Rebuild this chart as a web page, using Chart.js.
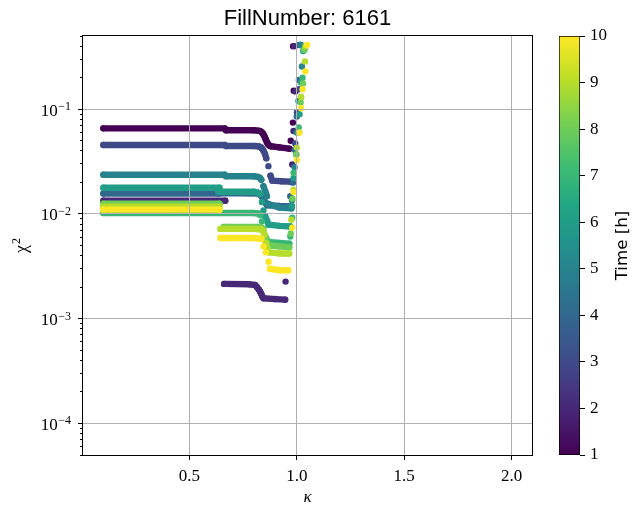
<!DOCTYPE html>
<html>
<head>
<meta charset="utf-8">
<script src="https://cdn.jsdelivr.net/npm/chart.js@4.4.1/dist/chart.umd.min.js"></script>
<style>
  html, body { margin: 0; padding: 0; background: #fff; }
  #wrap { position: relative; width: 632px; height: 507px; }
  #main { position: absolute; left: 0; top: 0; }
  #cbar { position: absolute; left: 532px; top: 0; }
</style>
</head>
<body>
<div id="wrap">
  <canvas id="main" width="632" height="507"></canvas>
  <canvas id="cbar" width="100" height="507"></canvas>
</div>
<script>
// Fill 6161: chi^2 of the fit against kappa, one scan per hour of the fill.
const hours = [1, 2, 3, 4, 5, 6, 7, 8, 9, 10];

const kappaH1 = [0.10, 0.665, 0.67, 0.80, 0.82, 0.83, 0.835, 0.84, 0.845, 0.85, 0.855, 0.86, 0.865, 0.87, 0.875, 0.88, 0.92, 0.965, 0.972, 0.982, 0.986, 0.983];
const chi2H1  = [0.0657, 0.0657, 0.0629, 0.0629, 0.0625, 0.0618, 0.0608, 0.0595, 0.0575, 0.0550, 0.0520, 0.0490, 0.0468, 0.0455, 0.0447, 0.0443, 0.0432, 0.0420, 0.050, 0.0745, 0.150, 0.400];

const kappaH2 = [0.10, 0.667, 0.662, 0.78, 0.806, 0.815, 0.825, 0.83, 0.835, 0.84, 0.845, 0.90, 0.946, 0.948, 0.979, 0.985, 0.994, 0.99];
const chi2H2  = [0.0134, 0.0134, 0.00215, 0.00213, 0.00210, 0.00200, 0.00188, 0.00180, 0.00172, 0.00163, 0.00157, 0.00154, 0.00152, 0.00226, 0.0297, 0.062, 0.148, 0.40];

const kappaH3 = [0.10, 0.665, 0.67, 0.80, 0.82, 0.83, 0.835, 0.84, 0.845, 0.852, 0.858, 0.868, 0.878, 0.886, 0.93, 0.975, 0.993, 1.001, 1.009, 1.012];
const chi2H3  = [0.0455, 0.0455, 0.0446, 0.0446, 0.0443, 0.0437, 0.0428, 0.0418, 0.0402, 0.0375, 0.0340, 0.0286, 0.0232, 0.0208, 0.0205, 0.0203, 0.047, 0.093, 0.155, 0.41];

const kappaH4 = [0.10, 0.635, 0.65, 0.82, 0.83, 0.845, 0.855, 0.862, 0.92, 0.968, 0.970, 0.982, 0.990, 1.000, 1.010, 1.016];
const chi2H4  = [0.0157, 0.0157, 0.0158, 0.0157, 0.0152, 0.0138, 0.0127, 0.0121, 0.0119, 0.0118, 0.0148, 0.0199, 0.041, 0.085, 0.19, 0.41];

const kappaH5 = [0.10, 0.665, 0.67, 0.80, 0.82, 0.83, 0.835, 0.845, 0.853, 0.861, 0.866, 0.92, 0.975, 0.978, 0.99, 1.0, 1.008, 1.024, 1.02];
const chi2H5  = [0.0237, 0.0237, 0.0229, 0.0229, 0.0226, 0.0220, 0.0212, 0.0184, 0.0165, 0.0148, 0.0125, 0.0115, 0.0113, 0.0135, 0.028, 0.060, 0.12, 0.256, 0.41];

const kappaH6 = [0.10, 0.64, 0.635, 0.80, 0.82, 0.83, 0.838, 0.845, 0.853, 0.862, 0.869, 0.92, 0.97, 0.978, 0.985, 0.998, 1.013, 1.02, 1.03];
const chi2H6  = [0.0178, 0.0178, 0.0163, 0.0163, 0.0160, 0.0155, 0.0130, 0.0108, 0.0095, 0.0086, 0.0079, 0.0077, 0.0076, 0.0119, 0.022, 0.037, 0.0895, 0.18, 0.36];

const kappaH7 = [0.10, 0.80, 0.82, 0.83, 0.838, 0.845, 0.855, 0.868, 0.92, 0.965, 0.97, 0.979, 0.985, 1.009, 1.02, 1.027, 1.036];
const chi2H7  = [0.0102, 0.0102, 0.0101, 0.0098, 0.0085, 0.0072, 0.0060, 0.0054, 0.0053, 0.0052, 0.0061, 0.0092, 0.0248, 0.0668, 0.131, 0.20, 0.37];

const kappaH8 = [0.10, 0.64, 0.66, 0.83, 0.84, 0.85, 0.86, 0.87, 0.92, 0.965, 0.972, 0.98, 0.998, 1.018, 1.029, 1.034];
const chi2H8  = [0.0125, 0.0125, 0.0075, 0.0075, 0.0073, 0.0062, 0.0055, 0.0050, 0.0049, 0.0048, 0.0065, 0.014, 0.037, 0.116, 0.176, 0.37];

const kappaH9 = [0.10, 0.64, 0.645, 0.80, 0.835, 0.844, 0.85, 0.856, 0.862, 0.868, 0.92, 0.965, 0.975, 0.985, 1.0, 1.01, 1.02, 1.038, 1.04];
const chi2H9  = [0.0117, 0.0117, 0.0072, 0.0072, 0.0071, 0.0069, 0.00635, 0.0053, 0.0047, 0.0043, 0.0042, 0.0042, 0.0088, 0.017, 0.043, 0.0598, 0.131, 0.286, 0.40];

const kappaH10 = [0.10, 0.64, 0.645, 0.80, 0.835, 0.845, 0.856, 0.869, 0.875, 0.92, 0.96, 0.979, 0.985, 1.001, 1.013, 1.02, 1.027, 1.04, 1.048];
const chi2H10  = [0.0110, 0.0110, 0.0059, 0.0059, 0.0058, 0.0049, 0.0043, 0.0035, 0.0030, 0.0029, 0.0029, 0.0074, 0.0162, 0.0327, 0.0598, 0.102, 0.155, 0.23, 0.41];

const kappaTicks = [0.5, 1.0, 1.5, 2.0];
const chi2Ticks = [1e-4, 1e-3, 1e-2, 1e-1];
const timeTicks = [1, 2, 3, 4, 5, 6, 7, 8, 9, 10];

const scans = [
  [kappaH1, chi2H1], [kappaH2, chi2H2], [kappaH3, chi2H3], [kappaH4, chi2H4], [kappaH5, chi2H5],
  [kappaH6, chi2H6], [kappaH7, chi2H7], [kappaH8, chi2H8], [kappaH9, chi2H9], [kappaH10, chi2H10]
];

// viridis colour map
const VIRIDIS = ['#440154', '#482475', '#414487', '#355f8d', '#2a788e', '#21918c',
                 '#22a884', '#44bf70', '#7ad151', '#bddf26', '#fde725'];
function hexRgb(h) { return [1, 3, 5].map(i => parseInt(h.slice(i, i + 2), 16)); }
function viridis(f) {
  const n = VIRIDIS.length - 1;
  const p = Math.min(Math.max(f, 0), 1) * n;
  const i = Math.min(Math.floor(p), n - 1);
  const t = p - i;
  const a = hexRgb(VIRIDIS[i]), b = hexRgb(VIRIDIS[i + 1]);
  const c = a.map((v, k) => Math.round(v + (b[k] - v) * t));
  return `rgb(${c[0]},${c[1]},${c[2]})`;
}
const tMin = timeTicks[0], tMax = timeTicks[timeTicks.length - 1];

// Neighbouring points that touch form a continuous band; isolated points stay dots.
function bandOrGap(c) {
  const dx = Math.abs(c.p1.x - c.p0.x), dy = Math.abs(c.p1.y - c.p0.y);
  return (Math.hypot(dx, dy) <= 6 || dy <= 1.2 + 0.25 * dx) ? undefined : 'rgba(0,0,0,0)';
}

const MARK = 3.2;
const datasets = scans.map(([k, c], i) => {
  const col = viridis((hours[i] - tMin) / (tMax - tMin));
  return {
    label: hours[i] + ' h',
    data: k.map((x, j) => ({ x, y: c[j] })),
    showLine: true,
    borderColor: col,
    backgroundColor: col,
    borderWidth: 2 * MARK,
    borderCapStyle: 'round',
    borderJoinStyle: 'round',
    pointRadius: MARK,
    pointHoverRadius: MARK,
    pointBorderWidth: 0,
    order: -hours[i],
    segment: { borderColor: bandOrGap }
  };
});

const isDecade = v => Math.abs(Math.log10(v) - Math.round(Math.log10(v))) < 1e-9;

const serif = 'Liberation Serif';
const tickFont = { family: serif, size: 17 };

// grid on top of the markers, then the frame
const overlay = {
  id: 'overlay',
  afterDatasetsDraw(chart) {
    const a = chart.chartArea, ctx = chart.ctx;
    chart.scales.x.drawGrid(a);
    chart.scales.y.drawGrid(a);
    ctx.save();
    ctx.strokeStyle = '#000';
    ctx.lineWidth = 1;
    ctx.strokeRect(a.left - 0.5, a.top - 0.5, a.right - a.left + 1, a.bottom - a.top + 1);
    ctx.restore();
  }
};

// power-of-ten tick labels and the chi^2 axis title, with raised exponents
const logLabels = {
  id: 'logLabels',
  afterDraw(chart) {
    const ctx = chart.ctx, y = chart.scales.y;
    ctx.save();
    ctx.fillStyle = '#000';
    ctx.textBaseline = 'alphabetic';
    const right = y.right - 5 - 7;
    chi2Ticks.forEach(v => {
      const py = y.getPixelForValue(v);
      const exp = String(Math.round(Math.log10(v))).replace('-', '\u2212');
      ctx.font = `12px "${serif}"`;
      ctx.textAlign = 'right';
      const ew = ctx.measureText(exp).width;
      ctx.fillText(exp, right, py + 0.8);
      ctx.font = `17px "${serif}"`;
      ctx.fillText('10', right - ew - 0.5, py + 6.3);
    });
    // axis title
    const a = chart.chartArea;
    ctx.translate(27, (a.top + a.bottom) / 2);
    ctx.rotate(-Math.PI / 2);
    ctx.font = `18px "${serif}"`;
    const cw = ctx.measureText('χ').width;
    ctx.font = `12px "${serif}"`;
    const sw = ctx.measureText('2').width;
    const x0 = -(cw + sw + 1) / 2;
    ctx.textAlign = 'left';
    ctx.font = `18px "${serif}"`;
    ctx.fillText('χ', x0, 0);
    ctx.font = `12px "${serif}"`;
    ctx.fillText('2', x0 + cw + 1, -7);
    ctx.restore();
  }
};

new Chart(document.getElementById('main'), {
  type: 'scatter',
  data: { datasets },
  plugins: [overlay, logLabels],
  options: {
    responsive: false,
    animation: false,
    devicePixelRatio: 1,
    layout: { padding: { left: 0, right: 100, top: 0, bottom: 0 } },
    plugins: {
      legend: { display: false },
      tooltip: { enabled: false },
      title: {
        display: true,
        text: 'FillNumber: 6161',
        fullSize: false,
        color: '#000',
        font: { family: 'Liberation Sans', size: 22, weight: 'normal', lineHeight: 1.2 },
        padding: { top: 5.3, bottom: 4.3 }
      }
    },
    scales: {
      x: {
        type: 'linear',
        min: 0.005,
        max: 2.095,
        afterBuildTicks: s => { s.ticks = kappaTicks.map(v => ({ value: v })); },
        afterFit: s => { s.height = 52; },
        ticks: { callback: v => v.toFixed(1), font: tickFont, color: '#000', padding: 6, maxRotation: 0, autoSkip: false },
        grid: { color: '#b0b0b0', lineWidth: 1, tickColor: '#000', tickLength: 5, tickWidth: 1 },
        border: { display: false },
        title: { display: true, text: 'κ', color: '#000',
                 font: { family: serif, style: 'italic', size: 17, lineHeight: 1.14 },
                 padding: { top: 0, bottom: 0 } }
      },
      y: {
        type: 'logarithmic',
        min: 5e-5,
        max: 0.5,
        afterBuildTicks: s => {
          const t = [];
          chi2Ticks.concat([1e-5]).forEach(d => {
            for (let m = 1; m <= 9; m++) {
              const v = +(d * m).toPrecision(3);
              if (v >= 5e-5 && v <= 0.5) t.push(v);
            }
          });
          t.sort((a, b) => a - b);
          s.ticks = t.map(v => ({ value: v, major: isDecade(v) }));
        },
        afterFit: s => { s.width = 83; },
        ticks: { display: false },
        grid: {
          color: c => (c.tick && isDecade(c.tick.value)) ? '#b0b0b0' : 'rgba(0,0,0,0)',
          lineWidth: 1,
          tickColor: '#000',
          tickLength: 5,
          tickWidth: 1,
          tickBorderDash: c => (c.tick && isDecade(c.tick.value)) ? [] : [0, 2, 3, 100]
        },
        border: { display: false },
        title: { display: false }
      }
    }
  }
});

// colour bar for the scan time
const cbarLabel = {
  id: 'cbarLabel',
  afterDraw(chart) {
    const a = chart.chartArea, ctx = chart.ctx;
    ctx.save();
    ctx.translate(91, (a.top + a.bottom) / 2);
    ctx.rotate(-Math.PI / 2);
    ctx.font = '16.7px "DejaVu Sans"';
    ctx.fillStyle = '#000';
    ctx.textAlign = 'center';
    ctx.textBaseline = 'middle';
    ctx.fillText('Time [h]', 0, 0);
    ctx.restore();
  }
};

new Chart(document.getElementById('cbar'), {
  type: 'bar',
  data: {
    labels: [''],
    datasets: [{
      data: [[tMin, tMax]],
      backgroundColor: c => {
        const a = c.chart.chartArea;
        if (!a) return null;
        const g = c.chart.ctx.createLinearGradient(0, a.bottom, 0, a.top);
        VIRIDIS.forEach((h, i) => g.addColorStop(i / (VIRIDIS.length - 1), h));
        return g;
      },
      borderColor: '#000',
      borderWidth: 1,
      borderSkipped: false,
      categoryPercentage: 1,
      barPercentage: 1
    }]
  },
  plugins: [cbarLabel],
  options: {
    responsive: false,
    animation: false,
    devicePixelRatio: 1,
    layout: { padding: { left: 27, right: 0, top: 36, bottom: 52 } },
    plugins: { legend: { display: false }, tooltip: { enabled: false } },
    scales: {
      x: { display: false },
      y: {
        position: 'right',
        min: tMin,
        max: tMax,
        afterBuildTicks: s => { s.ticks = timeTicks.map(v => ({ value: v })); },
        afterFit: s => { s.width = 52; },
        ticks: { font: tickFont, color: '#000', padding: 5, autoSkip: false },
        grid: { drawOnChartArea: false, tickColor: '#000', tickLength: 5, tickWidth: 1 },
        border: { display: false }
      }
    }
  }
});
</script>
</body>
</html>
